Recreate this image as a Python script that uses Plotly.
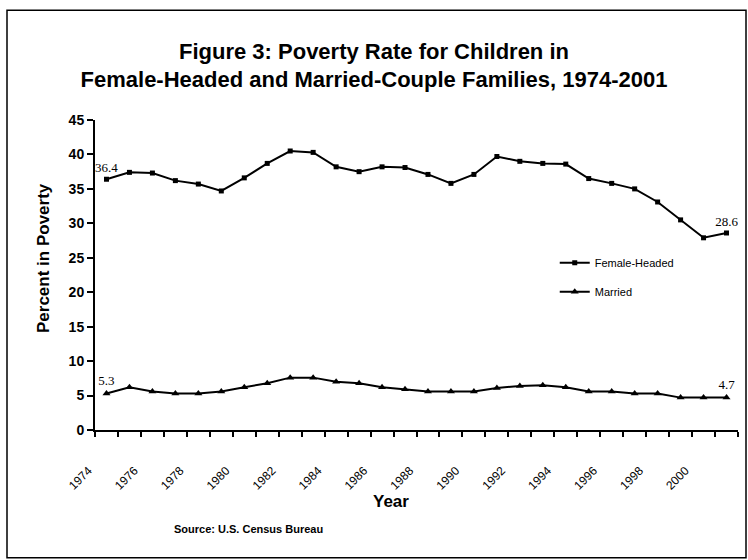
import plotly.graph_objects as go

years = list(range(1974, 2002))
female_headed = [36.4, 37.4, 37.3, 36.2, 35.7, 34.7, 36.6, 38.7, 40.5, 40.3,
                 38.2, 37.5, 38.2, 38.1, 37.1, 35.8, 37.1, 39.7, 39.0, 38.7,
                 38.6, 36.5, 35.8, 35.0, 33.1, 30.5, 27.9, 28.6]
married = [5.3, 6.2, 5.6, 5.3, 5.3, 5.6, 6.2, 6.8, 7.6, 7.6,
           7.0, 6.8, 6.2, 5.9, 5.6, 5.6, 5.6, 6.1, 6.4, 6.5,
           6.2, 5.6, 5.6, 5.3, 5.3, 4.7, 4.7, 4.7]
tick_years = list(range(1974, 2001, 2))
y_ticks = list(range(0, 50, 5))

title_text = ("Figure 3: Poverty Rate for Children in<br>"
              "Female-Headed and Married-Couple Families, 1974-2001")


def end_labels(vals):
    return [f"{v:.1f}" if i in (0, len(vals) - 1) else "" for i, v in enumerate(vals)]


label_font = dict(family="Liberation Serif, Times New Roman, serif", size=13, color="black")

fig = go.Figure()
fig.add_trace(go.Scatter(
    x=years, y=female_headed, name="Female-Headed",
    mode="lines+markers+text", text=end_labels(female_headed),
    textposition="top center", textfont=label_font,
    line=dict(color="black", width=2),
    marker=dict(symbol="square", size=5, color="black"),
    legendgroup="f",
))
fig.add_trace(go.Scatter(
    x=years, y=married, name="Married",
    mode="lines+markers+text", text=end_labels(married),
    textposition="top center", textfont=label_font,
    line=dict(color="black", width=2),
    marker=dict(symbol="triangle-up", size=7, color="black"),
    legendgroup="m",
))

fig.update_layout(
    width=748, height=560,
    margin=dict(l=95, r=10, t=120, b=130),
    paper_bgcolor="white", plot_bgcolor="white",
    font=dict(family="Arial, Liberation Sans, sans-serif", color="black"),
    title=dict(text=title_text, x=0.5, xanchor="center", y=0.895, yanchor="middle",
               font=dict(family="Arial, Liberation Sans, sans-serif", size=22, color="black",
                         weight="bold")),
    showlegend=True,
    legend=dict(x=0.715, y=0.493, xanchor="left", yanchor="middle",
                font=dict(size=11, color="black"), bgcolor="rgba(0,0,0,0)",
                traceorder="grouped", tracegroupgap=10),
    xaxis=dict(range=[1973.5, 2001.5], tickmode="array", tickvals=tick_years,
               ticktext=[str(t) for t in tick_years], tickangle=-45,
               tickfont=dict(size=12, color="black"), ticks="",
               ticklabelshift=-18, ticklabelstandoff=27,
               minor=dict(tick0=1973.5, dtick=1, ticks="outside", ticklen=5,
                          tickcolor="black", tickwidth=1.5, showgrid=False),
               showline=True, linecolor="black", linewidth=2,
               showgrid=False, zeroline=False),
    yaxis=dict(range=[0, 45], tickmode="array", tickvals=y_ticks,
               ticks="outside", ticklen=6, tickwidth=1.5, tickcolor="black",
               tickfont=dict(size=14, color="black", weight="bold"),
               showline=True, linecolor="black", linewidth=2,
               showgrid=False, zeroline=False),
    shapes=[dict(type="rect", xref="paper", yref="paper",
                 x0=-88 / 643, x1=1 + 8 / 643, y0=-128 / 310.5, y1=1 + 110 / 310.5,
                 line=dict(color="black", width=1.5), fillcolor="rgba(0,0,0,0)")],
    annotations=[
        dict(text="Year", xref="paper", yref="paper", x=(391 - 95) / 643, y=-72 / 310.5,
             xanchor="center", yanchor="middle", showarrow=False,
             font=dict(size=17, weight="bold")),
        dict(text="Percent in Poverty", xref="paper", yref="paper", x=-52 / 643,
             y=(430 - 258) / 310, xanchor="center", yanchor="middle", textangle=-90,
             showarrow=False, font=dict(size=17, weight="bold")),
        dict(text="Source: U.S. Census Bureau", xref="paper", yref="paper",
             x=(248 - 95) / 643, y=-99 / 310.5, xanchor="center", yanchor="middle",
             showarrow=False, font=dict(size=11, weight="bold")),
    ],
)

fig.write_html("out.html")
